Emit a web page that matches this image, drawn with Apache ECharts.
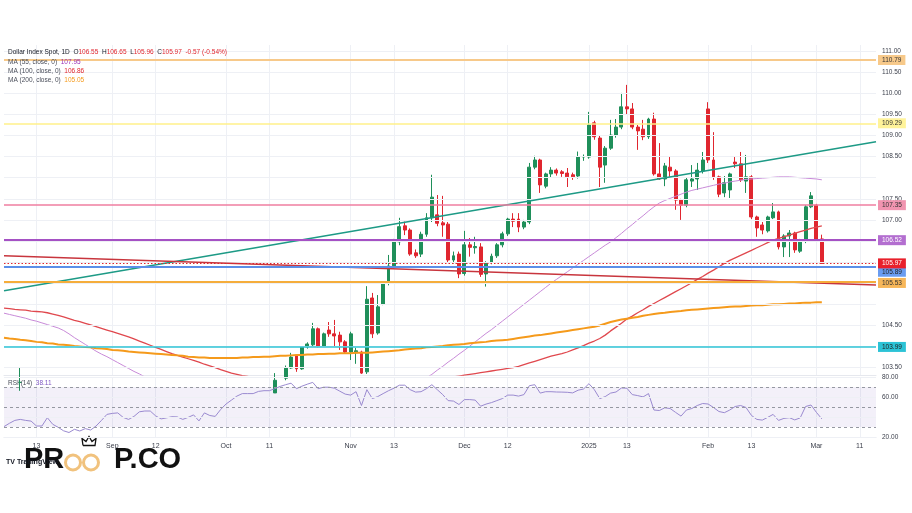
<!DOCTYPE html>
<html><head><meta charset="utf-8">
<script src="https://cdn.jsdelivr.net/npm/echarts@6/dist/echarts.min.js"></script>
<style>html,body{margin:0;padding:0;background:#fff}#c{width:912px;height:513px}</style>
</head><body><div id="c"></div>
<script>
// ---------- DATA ----------
const openP = [103.20,102.70,102.95,103.15,103.15,103.10,103.10,102.60,102.60,103.00,
102.40,102.00,101.40,101.10,101.50,100.70,100.85,100.55,101.10,101.35,
101.70,101.65,101.80,101.35,101.10,101.20,101.60,101.60,101.70,101.35,
101.10,100.75,100.90,100.60,100.60,100.70,100.80,100.40,100.90,100.60,
100.40,100.80,101.20,101.70,102.00,102.50,102.50,102.50,102.90,102.90,
102.90,103.20,103.25,103.49,103.78,103.47,103.99,104.04,104.42,104.01,
104.39,104.30,104.27,104.11,103.87,103.85,103.87,103.40,105.15,104.32,
105.00,105.50,105.91,106.48,106.86,106.76,106.22,106.19,106.66,107.05,
107.12,106.93,106.90,106.05,106.19,105.73,106.41,106.34,106.36,105.72,
105.99,106.15,106.41,106.67,107.02,107.02,106.83,106.95,108.25,108.42,
107.80,108.09,108.18,108.14,108.11,108.07,108.04,108.49,108.49,109.30,
108.94,108.30,108.70,109.01,109.20,109.68,109.63,109.20,109.15,108.97,
109.39,108.09,107.97,108.25,108.16,107.47,107.35,107.92,107.97,108.16,
109.63,108.42,108.02,107.64,107.71,108.37,108.33,107.92,108.02,107.07,
106.88,106.74,107.05,107.19,106.36,106.62,106.69,106.26,106.50,107.31,
107.35,106.55];
const highP = [103.30,103.00,103.25,103.51,103.25,103.20,103.12,102.90,103.20,103.00,
102.60,102.10,101.70,101.60,101.60,100.90,100.90,101.20,101.50,101.80,
101.80,101.90,101.80,101.50,101.40,101.70,101.70,101.90,101.80,101.40,
101.10,101.10,101.40,101.00,100.90,101.10,100.90,101.00,101.00,100.70,
100.90,101.30,101.70,102.10,102.70,102.70,102.60,102.90,103.00,103.10,
103.37,103.30,103.55,103.85,103.82,104.00,104.10,104.56,104.45,104.33,
104.58,104.63,104.35,104.15,104.35,103.97,103.90,105.43,105.27,105.22,
105.55,106.17,106.55,107.05,106.96,106.80,106.30,106.72,107.16,108.07,
107.59,107.57,106.95,106.25,106.25,106.74,106.57,106.60,106.45,106.02,
106.20,106.45,106.72,107.05,107.16,107.16,107.00,108.35,108.52,108.45,
108.12,108.25,108.22,108.18,108.23,108.12,108.62,108.55,109.56,109.35,
109.00,108.75,109.37,109.39,110.01,110.20,109.77,109.25,109.37,109.42,
109.54,108.82,108.35,108.49,108.20,107.50,108.00,108.30,108.35,108.61,
109.79,109.08,108.05,108.04,108.12,108.49,108.61,108.54,108.06,107.10,
106.95,107.10,107.40,107.22,106.66,106.76,106.72,106.55,107.35,107.66,
107.38,106.65];
const lowP = [102.20,102.60,102.85,102.95,102.90,102.90,102.50,102.40,102.50,102.30,
101.90,101.30,101.00,101.00,100.60,100.50,100.50,100.50,100.90,101.20,
101.60,101.50,101.20,100.90,100.80,101.10,101.40,101.30,101.30,100.90,
100.60,100.60,100.20,100.20,100.20,100.60,100.20,100.20,100.40,100.20,
100.20,100.70,101.10,101.60,101.90,102.40,102.30,102.40,102.60,102.80,
102.90,103.00,103.20,103.47,103.40,103.45,103.95,104.00,103.98,103.99,
104.23,104.01,103.92,103.83,103.68,103.59,103.35,103.35,104.20,104.28,
104.98,105.45,105.85,106.40,106.64,106.15,106.10,106.12,106.60,106.95,
106.85,106.60,105.98,105.97,105.62,105.68,106.13,106.20,105.65,105.42,
105.95,106.10,106.35,106.62,106.83,106.71,106.78,106.90,108.20,107.64,
107.75,108.00,108.05,108.02,107.78,107.95,107.98,108.40,108.45,108.90,
107.78,107.88,108.66,108.95,109.15,109.50,109.15,108.66,108.89,108.92,
108.05,107.95,107.80,108.02,107.24,107.00,107.30,107.78,107.71,108.10,
108.35,107.95,107.54,107.54,107.52,108.23,107.90,107.64,107.02,106.60,
106.66,106.70,107.02,106.30,106.12,106.12,106.22,106.22,106.45,107.28,
106.48,105.96];
const closeP = [102.70,102.95,103.15,103.15,103.10,103.10,102.60,102.60,103.00,102.40,
102.00,101.40,101.10,101.50,100.70,100.85,100.55,101.10,101.35,101.70,
101.65,101.80,101.35,101.10,101.20,101.60,101.60,101.70,101.35,101.10,
100.75,100.90,100.60,100.60,100.70,100.80,100.40,100.90,100.60,100.40,
100.80,101.20,101.70,102.00,102.50,102.50,102.50,102.90,102.90,102.90,
103.20,103.25,103.49,103.75,103.47,103.99,104.06,104.42,104.01,104.30,
104.30,104.25,104.11,103.87,104.30,103.90,103.37,105.12,104.30,104.94,
105.50,105.91,106.48,106.84,106.76,106.19,106.15,106.66,107.05,107.54,
106.92,106.88,106.05,106.15,105.72,106.41,106.35,106.37,105.71,105.97,
106.14,106.41,106.67,107.02,106.97,106.83,106.95,108.25,108.42,107.83,
108.09,108.18,108.11,108.10,108.02,108.02,108.49,108.50,109.25,108.97,
108.25,108.70,109.01,109.20,109.68,109.63,109.20,109.11,108.97,109.39,
108.09,107.97,108.28,108.16,107.47,107.35,107.95,107.97,108.18,108.42,
108.42,108.02,107.61,107.88,108.09,108.33,107.95,108.02,107.07,106.81,
106.76,107.07,107.19,106.36,106.62,106.69,106.29,106.50,107.31,107.57,
106.54,105.97];
const ma55 = [104.79,104.76,104.73,104.70,104.67,104.63,104.60,104.56,104.52,104.48,
104.44,104.38,104.30,104.21,104.13,104.05,103.97,103.89,103.82,103.76,
103.69,103.62,103.55,103.48,103.41,103.35,103.28,103.21,103.14,103.07,
103.00,102.93,102.86,102.79,102.72,102.65,102.58,102.51,102.44,102.37,
102.30,102.24,102.18,102.12,102.07,102.02,101.98,101.94,101.90,101.87,
101.84,101.82,101.80,101.80,101.80,101.81,101.83,101.86,101.90,101.95,
102.00,102.07,102.14,102.21,102.28,102.35,102.42,102.49,102.56,102.63,
102.70,102.77,102.84,102.91,102.98,103.05,103.12,103.19,103.26,103.34,
103.44,103.53,103.63,103.72,103.82,103.91,104.01,104.11,104.21,104.31,
104.40,104.50,104.60,104.70,104.80,104.90,105.00,105.10,105.20,105.30,
105.40,105.50,105.59,105.68,105.77,105.86,105.95,106.04,106.13,106.22,
106.31,106.40,106.48,106.58,106.68,106.79,106.89,107.00,107.10,107.21,
107.31,107.40,107.46,107.51,107.56,107.61,107.66,107.70,107.73,107.76,
107.79,107.82,107.85,107.87,107.90,107.92,107.94,107.96,107.97,107.98,
107.99,108.00,108.01,108.02,108.02,108.02,108.01,108.00,107.99,107.98,
107.97,107.95];
const ma100 = [104.91,104.90,104.88,104.87,104.86,104.84,104.83,104.82,104.80,104.77,
104.74,104.70,104.66,104.62,104.59,104.55,104.51,104.47,104.43,104.39,
104.35,104.31,104.27,104.23,104.18,104.13,104.08,104.03,103.98,103.93,
103.88,103.83,103.79,103.75,103.71,103.67,103.63,103.58,103.54,103.50,
103.45,103.41,103.37,103.34,103.31,103.29,103.26,103.24,103.22,103.20,
103.18,103.16,103.14,103.12,103.10,103.08,103.06,103.05,103.04,103.03,
103.03,103.03,103.03,103.04,103.05,103.06,103.07,103.08,103.09,103.10,
103.11,103.12,103.13,103.14,103.15,103.16,103.17,103.18,103.19,103.20,
103.22,103.24,103.26,103.28,103.30,103.32,103.34,103.36,103.38,103.40,
103.42,103.44,103.46,103.48,103.50,103.53,103.57,103.61,103.65,103.69,
103.73,103.77,103.80,103.83,103.87,103.92,103.97,104.02,104.08,104.13,
104.19,104.27,104.37,104.46,104.55,104.65,104.72,104.80,104.87,104.95,
105.02,105.09,105.16,105.23,105.30,105.37,105.44,105.51,105.59,105.66,
105.74,105.81,105.89,105.97,106.04,106.10,106.16,106.22,106.28,106.34,
106.40,106.46,106.52,106.56,106.60,106.64,106.68,106.72,106.76,106.80,
106.83,106.86];
const ma200 = [104.21,104.19,104.18,104.16,104.15,104.13,104.11,104.10,104.08,104.07,
104.05,104.04,104.03,104.01,104.00,103.99,103.98,103.96,103.95,103.94,
103.92,103.91,103.90,103.88,103.87,103.86,103.85,103.84,103.83,103.82,
103.81,103.80,103.79,103.78,103.76,103.75,103.74,103.74,103.73,103.73,
103.73,103.73,103.73,103.73,103.74,103.74,103.75,103.75,103.76,103.76,
103.77,103.78,103.78,103.79,103.80,103.80,103.81,103.81,103.82,103.82,
103.83,103.83,103.84,103.84,103.84,103.85,103.85,103.85,103.86,103.87,
103.88,103.89,103.90,103.91,103.93,103.94,103.95,103.96,103.98,103.99,
104.00,104.01,104.03,104.04,104.05,104.06,104.08,104.09,104.10,104.11,
104.13,104.14,104.15,104.16,104.18,104.20,104.22,104.24,104.26,104.27,
104.29,104.31,104.33,104.35,104.37,104.39,104.41,104.43,104.45,104.47,
104.50,104.54,104.58,104.61,104.64,104.66,104.68,104.70,104.73,104.75,
104.77,104.79,104.80,104.82,104.83,104.84,104.86,104.87,104.88,104.89,
104.90,104.91,104.92,104.93,104.94,104.95,104.95,104.96,104.97,104.98,
104.98,104.99,105.00,105.00,105.01,105.02,105.02,105.03,105.04,105.04,
105.05,105.05];
const rsi14 = [30.4,33.7,36.6,37.6,36.6,35.9,31.0,31.0,39.3,32.7,
29.7,26.2,24.5,27.7,26.0,28.4,27.0,31.0,36.6,42.6,
43.6,44.1,39.6,37.6,40.6,45.2,46.0,46.0,41.1,38.1,
39.1,40.3,40.1,37.6,39.6,42.1,36.1,44.1,41.5,40.6,
47.5,53.0,56.9,60.9,63.4,63.4,63.4,65.6,66.3,66.3,
68.3,70.6,72.3,73.8,68.3,70.8,72.8,74.6,68.3,69.8,
69.8,68.8,65.8,62.9,61.9,65.3,51.5,67.3,58.4,60.4,
63.4,66.3,68.8,71.8,71.8,67.3,64.9,65.3,68.3,72.3,
67.3,62.4,56.4,55.9,52.5,57.4,57.4,56.9,50.8,52.9,
54.4,56.4,58.4,61.9,61.9,60.9,62.4,71.3,72.3,63.9,
65.3,65.3,65.0,64.9,64.7,64.1,66.8,68.0,73.3,67.3,
58.4,60.4,63.9,65.0,69.0,68.8,62.4,61.4,60.1,63.4,
47.0,46.5,49.2,48.5,44.6,40.9,47.0,48.5,51.5,53.5,
53.0,49.5,45.5,44.3,47.0,50.5,51.5,49.5,41.6,37.6,
36.9,39.6,42.6,36.6,38.6,39.3,37.1,39.1,50.5,52.0,
44.6,38.11];
// horizontal price levels drawn on the chart
const hLevels = [110.79, 109.29, 107.35, 106.52, 105.89, 105.53, 103.99];
const lastPriceLine = 105.97;
// trend lines: [date, price] end points
const tealTrend = [['2024-08-05', 105.32], ['2025-03-18', 108.85]];
const redTrend = [['2024-08-05', 106.15], ['2025-03-18', 105.46]];
// axis tick labels
const xTickLabels = [['2024-08-13','13'],['2024-09-02','Sep'],['2024-09-12','12'],['2024-10-01','Oct'],['2024-10-11','11'],
['2024-11-01','Nov'],['2024-11-13','13'],['2024-12-02','Dec'],['2024-12-12','12'],['2025-01-02','2025'],['2025-01-13','13'],
['2025-02-03','Feb'],['2025-02-13','13'],['2025-03-03','Mar'],['2025-03-13','11']];
const priceTicks = [103.5,104.0,104.5,105.0,105.5,106.0,106.5,107.0,107.5,108.0,108.5,109.0,109.5,110.0,110.5,111.0];
const priceTicksShown = [103.5,104.5,107.0,107.5,108.5,109.0,109.5,110.0,110.5,111.0];
const rsiTicks = [20, 40, 60, 80];
const rsiTicksShown = [20, 60, 80];
const rsiBands = [70, 50, 30];

// ---------- BUILD ----------
const N = 162;
const dates = [];
{ const d = new Date(Date.UTC(2024, 7, 5));
  while (dates.length < N) { const w = d.getUTCDay(); if (w > 0 && w < 6) dates.push(d.toISOString().slice(0, 10)); d.setUTCDate(d.getUTCDate() + 1); } }
const candles = openP.map((o, i) => [o, closeP[i], lowP[i], highP[i]]);
const tickMap = Object.fromEntries(xTickLabels);
const last = openP.length - 1;
const F = "'Liberation Sans', Arial, sans-serif";
const UP = '#1f8f5a', DOWN = '#e0262f';

const levelStyle = {
  110.79: {c:'#f7c98a', w:2, bg:'#f7c98a', tc:'#333'},
  109.29: {c:'#fff08a', w:1.5, bg:'#fff39a', tc:'#333'},
  107.35: {c:'#ef7ea0', w:1.5, bg:'#f194b0', tc:'#333'},
  106.52: {c:'#a551c4', w:2, bg:'#b36ed0', tc:'#fff'},
  105.89: {c:'#5b8ee8', w:2, bg:'#6a9cf0', tc:'#222'},
  105.53: {c:'#f5ad3b', w:2, bg:'#f7b75a', tc:'#333'},
  103.99: {c:'#2ec4d6', w:1.5, bg:'#2cc3d6', tc:'#222'}
};
const levelOffset = {105.89: 5, 105.53: 1};
function lbl(text, bg, color, dy) {
  return {show:true, position:'end', formatter:text, backgroundColor:bg, color:color, fontSize:6.5,
    fontFamily:F, padding:[2,4,1,4], distance:2, offset:[0, dy||0]};
}
const gridLines = priceTicks.map(v => ({yAxis:v, lineStyle:{color:'#eef0f5', width:1, type:'solid'},
  label: priceTicksShown.includes(v) ? {show:true, position:'end', formatter:v.toFixed(2), color:'#3a3e4a', fontSize:6.5, fontFamily:F, distance:6} : {show:false}}));
const levelLines = hLevels.map(v => {
  const s = levelStyle[v];
  return {yAxis:v, lineStyle:{color:s.c, width:s.w, type:'solid'}, label: lbl(v.toFixed(2), s.bg, s.tc, levelOffset[v] || 0)};
});
levelLines.push({yAxis:lastPriceLine, lineStyle:{color:'#e0262f', width:1, type:[1.5,2]}, label: lbl(lastPriceLine.toFixed(2), '#e8202b', '#fff', 0)});
const maLabels = [
  {yAxis:ma55[last], lineStyle:{opacity:0}, label: lbl(ma55[last].toFixed(2), '#9a2fb5', '#fff', 0)},
  {yAxis:ma100[last], lineStyle:{opacity:0}, label: lbl(ma100[last].toFixed(2), '#e0262f', '#fff', 0)},
  {yAxis:ma200[last], lineStyle:{opacity:0}, label: lbl(ma200[last].toFixed(2), '#f89a1c', '#222', 0)}
];
const trendLines = [
  [{coord:tealTrend[0], lineStyle:{color:'#1d9a86', width:1.5, type:'solid'}, label:{show:false}}, {coord:tealTrend[1]}],
  [{coord:redTrend[0], lineStyle:{color:'#c8353d', width:1.5, type:'solid'}, label:{show:false}}, {coord:redTrend[1]}]
];
const rsiLines = rsiTicks.map(v => ({yAxis:v, lineStyle:{color:'#eef0f5', width:1, type:'solid'},
  label: rsiTicksShown.includes(v) ? {show:true, position:'end', formatter:v.toFixed(2), color:'#3a3e4a', fontSize:6.5, fontFamily:F, distance:6} : {show:false}}))
  .concat(rsiBands.map(v => ({yAxis:v, lineStyle:{color:'#9598a1', width:1, type:[3,3]}, label:{show:false}})))
  .concat([{yAxis:rsi14[last], lineStyle:{opacity:0}, label: lbl(rsi14[last].toFixed(2), '#7e57c2', '#fff', 0)}]);

const chg = closeP[last] - closeP[last-1];
const chgPct = chg / closeP[last-1] * 100;
const fmt = v => v.toFixed(2);

const xSplit = (i, v) => tickMap[v] !== undefined;
const baseX = {type:'category', data:dates, boundaryGap:false,
  axisLine:{show:false}, axisTick:{show:false},
  splitLine:{show:true, interval:xSplit, lineStyle:{color:'#eef0f5', width:1}}};

const option = {
  animation:false,
  backgroundColor:'#ffffff',
  textStyle:{fontFamily:F},
  grid:[
    {left:4, right:36, top:45, height:330, containLabel:false},
    {left:4, right:36, top:377, height:60, containLabel:false}
  ],
  xAxis:[
    Object.assign({}, baseX, {gridIndex:0, axisLabel:{show:false}, axisLine:{show:true, lineStyle:{color:'#e6e8ee'}}}),
    Object.assign({}, baseX, {gridIndex:1, axisLine:{show:true, lineStyle:{color:'#e6e8ee'}},
      axisLabel:{show:true, interval:xSplit, formatter:v => tickMap[v] || '', color:'#3a3e4a', fontSize:7, fontFamily:F, margin:6}})
  ],
  yAxis:[
    {gridIndex:0, type:'value', position:'right', min:103.325, max:111.145, axisLabel:{show:false}, splitLine:{show:false}, axisLine:{show:false}, axisTick:{show:false}},
    {gridIndex:1, type:'value', position:'right', min:20, max:80, axisLabel:{show:false}, splitLine:{show:false}, axisLine:{show:false}, axisTick:{show:false}}
  ],
  series:[
    {type:'line', name:'grid', xAxisIndex:0, yAxisIndex:0, data:[], z:1, silent:true,
      markLine:{symbol:['none','none'], silent:true, animation:false, data:gridLines}},
    {type:'candlestick', name:'DXY', xAxisIndex:0, yAxisIndex:0, data:candles, barWidth:3.4, clip:true, z:3,
      itemStyle:{color:UP, color0:DOWN, borderColor:UP, borderColor0:DOWN, borderWidth:1}},
    {type:'line', name:'MA55', xAxisIndex:0, yAxisIndex:0, data:ma55, showSymbol:false, clip:true, z:4,
      lineStyle:{color:'#c88ad8', width:1}},
    {type:'line', name:'MA100', xAxisIndex:0, yAxisIndex:0, data:ma100, showSymbol:false, clip:true, z:4,
      lineStyle:{color:'#e0484e', width:1.3}},
    {type:'line', name:'MA200', xAxisIndex:0, yAxisIndex:0, data:ma200, showSymbol:false, clip:true, z:4,
      lineStyle:{color:'#f59a1b', width:2}},
    {type:'line', name:'levels', xAxisIndex:0, yAxisIndex:0, data:[], z:5, silent:true,
      markLine:{symbol:['none','none'], silent:true, animation:false, data:trendLines.concat(levelLines).concat(maLabels)}},
    {type:'line', name:'RSI', xAxisIndex:1, yAxisIndex:1, data:rsi14, showSymbol:false, clip:true, z:4,
      lineStyle:{color:'#9a8ad0', width:1},
      markArea:{silent:true, itemStyle:{color:'rgba(126,87,194,0.09)'}, data:[[{yAxis:rsiBands[0]},{yAxis:rsiBands[2]}]]},
      markLine:{symbol:['none','none'], silent:true, animation:false, data:rsiLines}}
  ],
  graphic:[
    {type:'text', left:8, top:49, z:10, style:{fontFamily:F, fontSize:6.5, fill:'#131722',
      text:`{t|Dollar Index Spot, 1D}  {k|O}{r|${fmt(openP[last])}}  {k|H}{r|${fmt(highP[last])}}  {k|L}{r|${fmt(lowP[last])}}  {k|C}{r|${fmt(closeP[last])}}  {r|${fmt(chg)} (${fmt(chgPct)}%)}`,
      rich:{t:{fill:'#131722', fontSize:6.5, fontFamily:F}, k:{fill:'#131722', fontSize:6.5, fontFamily:F}, r:{fill:'#e0262f', fontSize:6.5, fontFamily:F}}}},
    {type:'text', left:8, top:59, z:10, style:{fontFamily:F, fontSize:6.5, text:`{k|MA (55, close, 0)}  {v|${fmt(ma55[last])}}`,
      rich:{k:{fill:'#4a4e5a', fontSize:6.5, fontFamily:F}, v:{fill:'#9a2fb5', fontSize:6.5, fontFamily:F}}}},
    {type:'text', left:8, top:68, z:10, style:{fontFamily:F, fontSize:6.5, text:`{k|MA (100, close, 0)}  {v|${fmt(ma100[last])}}`,
      rich:{k:{fill:'#4a4e5a', fontSize:6.5, fontFamily:F}, v:{fill:'#e0262f', fontSize:6.5, fontFamily:F}}}},
    {type:'text', left:8, top:77, z:10, style:{fontFamily:F, fontSize:6.5, text:`{k|MA (200, close, 0)}  {v|${fmt(ma200[last])}}`,
      rich:{k:{fill:'#4a4e5a', fontSize:6.5, fontFamily:F}, v:{fill:'#f59a1b', fontSize:6.5, fontFamily:F}}}},
    {type:'text', left:8, top:380, z:10, style:{fontFamily:F, fontSize:6.5, text:`{k|RSI (14)}  {v|${fmt(rsi14[last])}}`,
      rich:{k:{fill:'#4a4e5a', fontSize:6.5, fontFamily:F}, v:{fill:'#7e57c2', fontSize:6.5, fontFamily:F}}}},
    {type:'text', left:6, top:459, z:10, style:{fontFamily:F, fontSize:7, fontWeight:'bold', fill:'#131722', text:'TV TradingView'}},
    {type:'group', left:24, top:434, z:20, children:[
      {type:'text', x:0, y:12, style:{text:'PR', fontFamily:F, fontWeight:'bold', fontSize:29, fill:'#111'}},
      {type:'circle', shape:{cx:49, cy:29, r:7.5}, style:{fill:'none', stroke:'#f1c27d', lineWidth:3}},
      {type:'circle', shape:{cx:67, cy:29, r:7.5}, style:{fill:'none', stroke:'#f1c27d', lineWidth:3}},
      {type:'polyline', shape:{points:[[59,12],[58,5],[62,8],[65,3],[68,8],[72,5],[71,12],[59,12]]}, style:{fill:'none', stroke:'#111', lineWidth:1.3}},
      {type:'text', x:90, y:12, style:{text:'P.CO', fontFamily:F, fontWeight:'bold', fontSize:29, fill:'#111'}}
    ]}
  ]
};
const chart = echarts.init(document.getElementById('c'));
chart.setOption(option);
</script>
</body></html>
